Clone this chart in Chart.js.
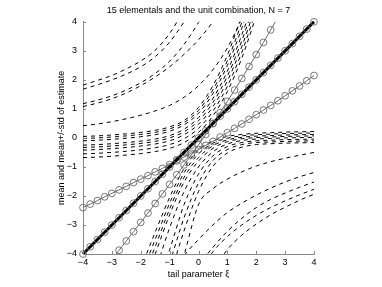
<!DOCTYPE html>
<html lang="en">
<head>
<meta charset="UTF-8">
<title>15 elementals and the unit combination, N = 7</title>
<script src="https://cdn.jsdelivr.net/npm/chart.js"></script>
<style>
  html, body { margin: 0; padding: 0; background: #fff; }
  canvas { display: block; }
</style>
</head>
<body>
<canvas id="myChart" width="382" height="287"></canvas>
<script>
// text
const titleText = '15 elementals and the unit combination, N = 7';
const xTitle = 'tail parameter \u03be';
const yTitle = 'mean and mean+/-std of estimate';
const xTickLabels = ['\u22124', '\u22123', '\u22122', '\u22121', '0', '1', '2', '3', '4'];
const yTickLabels = ['\u22124', '\u22123', '\u22122', '\u22121', '0', '1', '2', '3', '4'];

// grid for the elemental (dashed) curves
const xsD = [-4, -3.5, -3, -2.5, -2, -1.5, -1, -0.5, 0, 0.5, 1, 1.5, 2, 2.5, 3, 3.5, 4];

// upper curves, left edge to top edge
const u1 = [1.82, 1.98, 2.15, 2.38, 2.65, 3.02, 3.6, 4.4, null, null, null, null, null, null, null, null, null];
const u2 = [1.68, 1.83, 2.0, 2.2, 2.45, 2.8, 3.3, 4.0, 4.8, null, null, null, null, null, null, null, null];
const u3 = [1.18, 1.3, 1.45, 1.65, 1.9, 2.22, 2.64, 3.22, 3.98, 4.9, null, null, null, null, null, null, null];
const u4 = [1.08, 1.2, 1.35, 1.55, 1.8, 2.1, 2.45, 2.88, 3.38, 4.0, 4.7, null, null, null, null, null, null];
const u5 = [0.42, 0.48, 0.56, 0.66, 0.78, 0.93, 1.12, 1.4, 1.8, 2.35, 3.1, 4.1, null, null, null, null, null];

// dense bundle starting near zero at the left
const db1 = [0.05, 0.07, 0.10, 0.14, 0.19, 0.26, 0.38, 0.60, 1.05, 1.80, 2.85, 4.20, null, null, null, null, null];
const db2 = [-0.02, 0.0, 0.03, 0.07, 0.12, 0.19, 0.31, 0.53, 0.95, 1.66, 2.66, 3.98, 5.5, null, null, null, null];
const db3 = [-0.10, -0.08, -0.05, -0.01, 0.04, 0.11, 0.23, 0.45, 0.85, 1.53, 2.50, 3.78, 5.3, null, null, null, null];
const db4 = [-0.25, -0.23, -0.20, -0.16, -0.11, -0.04, 0.08, 0.30, 0.70, 1.36, 2.30, 3.55, 5.0, null, null, null, null];
const db5 = [-0.33, -0.31, -0.28, -0.24, -0.19, -0.12, 0.0, 0.21, 0.59, 1.22, 2.13, 3.35, 4.8, null, null, null, null];
const db6 = [-0.42, -0.40, -0.37, -0.33, -0.28, -0.21, -0.10, 0.11, 0.47, 1.08, 1.96, 3.15, 4.6, null, null, null, null];
const db7 = [-0.55, -0.53, -0.50, -0.46, -0.41, -0.34, -0.23, -0.03, 0.33, 0.92, 1.78, 2.95, 4.4, null, null, null, null];
const db8 = [-0.68, -0.66, -0.63, -0.59, -0.54, -0.47, -0.36, -0.16, 0.19, 0.76, 1.60, 2.75, 4.2, null, null, null, null];

// steep bundle from the bottom, flattening to the right edge
const s1 = [null, null, null, null, -4.5, -3.25, -2.05, -1.05, -0.42, -0.1, 0.05, 0.12, 0.16, 0.18, 0.2, 0.21, 0.22];
const s2 = [null, null, null, null, -4.75, -3.5, -2.25, -1.2, -0.55, -0.18, -0.01, 0.07, 0.11, 0.13, 0.15, 0.16, 0.17];
const s3 = [null, null, null, null, -5.0, -3.75, -2.45, -1.36, -0.68, -0.27, -0.07, 0.02, 0.06, 0.08, 0.1, 0.11, 0.12];
const s4 = [null, null, null, null, -5.3, -4.0, -2.65, -1.52, -0.8, -0.36, -0.13, -0.03, 0.01, 0.03, 0.05, 0.06, 0.07];
const s5 = [null, null, null, null, null, -4.6, -3.1, -1.85, -1.0, -0.48, -0.21, -0.09, -0.04, -0.02, 0.0, 0.01, 0.02];
const s6 = [null, null, null, null, null, -5.2, -3.85, -2.3, -1.25, -0.62, -0.3, -0.16, -0.1, -0.08, -0.06, -0.05, -0.04];
const s7 = [null, null, null, null, null, -5.6, -4.3, -2.75, -1.55, -0.78, -0.4, -0.23, -0.16, -0.14, -0.12, -0.11, -0.1];
const s8 = [null, null, null, null, null, null, -4.8, -3.2, -1.85, -0.98, -0.52, -0.32, -0.23, -0.2, -0.18, -0.17, -0.16];

// lower curves, bottom edge to right edge
const l0 = [null, null, null, null, null, null, -5.8, -4.05, -2.3, -1.75, -1.42, -1.17, -0.97, -0.82, -0.7, -0.6, -0.5];
const l1 = [null, null, null, null, null, null, -4.7, -4.05, -3.5, -3.0, -2.57, -2.25, -1.97, -1.73, -1.52, -1.34, -1.19];
const l2 = [null, null, null, null, null, null, null, -5.1, -4.4, -3.77, -3.22, -2.77, -2.4, -2.12, -1.9, -1.7, -1.52];
const l3 = [null, null, null, null, null, null, null, null, -4.7, -3.92, -3.4, -3.0, -2.67, -2.4, -2.17, -1.96, -1.77];
const l4 = [null, null, null, null, null, null, null, null, -5.4, -4.6, -3.85, -3.35, -2.97, -2.65, -2.39, -2.15, -1.94];

// unit combination
const xsC = [-4, -3.75, -3.5, -3.25, -3, -2.75, -2.5, -2.25, -2, -1.75, -1.5, -1.25, -1, -0.75, -0.5, -0.25, 0,
             0.25, 0.5, 0.75, 1, 1.25, 1.5, 1.75, 2, 2.25, 2.5, 2.75, 3, 3.25, 3.5, 3.75, 4];
const unitMean = [-4, -3.75, -3.5, -3.25, -3, -2.75, -2.5, -2.25, -2, -1.75, -1.5, -1.25, -1, -0.75, -0.5, -0.25, 0,
                  0.25, 0.5, 0.75, 1, 1.25, 1.5, 1.75, 2, 2.25, 2.5, 2.75, 3, 3.25, 3.5, 3.75, 4];
const unitUpper = [-2.40, -2.28, -2.16, -2.03, -1.91, -1.79, -1.67, -1.54, -1.42, -1.30, -1.17, -1.05, -0.92, -0.79, -0.66, -0.53, -0.40,
                   -0.26, -0.12, 0.03, 0.18, 0.33, 0.48, 0.64, 0.80, 0.96, 1.12, 1.28, 1.45, 1.62, 1.79, 1.97, 2.15];
const unitLower = [null, null, null, null, -4.19, -3.87, -3.55, -3.23, -2.91, -2.59, -2.26, -1.93, -1.60, -1.27, -0.93, -0.59, -0.24,
                   0.12, 0.49, 0.87, 1.26, 1.65, 2.05, 2.46, 2.87, 3.29, 3.72, 4.16, null, null, null, null, null];

const elementals = [u1, u2, u3, u4, u5, db1, db2, db3, db4, db5, db6, db7, db8,
                    s1, s2, s3, s4, s5, s6, s7, s8, l0, l1, l2, l3, l4];

const font = { family: '"Liberation Sans", Arial, Helvetica, sans-serif', size: 9 };
const axisColor = '#888';
const markerColor = '#6a6a6a';

function toPoints(xs, ys) {
    return xs.map((x, i) => ({ x: x, y: ys[i] }));
}

function markerRadius(c) {
    const v = c.raw ? c.raw.y : null;
    return (v === null || v < -4.05 || v > 4.05) ? 0 : 3.4;
}

const datasets = [];

datasets.push({
    data: toPoints(xsC, unitMean),
    borderColor: '#000',
    borderWidth: 3,
    pointRadius: markerRadius,
    pointBorderColor: markerColor,
    pointBackgroundColor: 'rgba(0,0,0,0)',
    pointBorderWidth: 0.9,
    clip: 5,
    order: 0
});

[unitUpper, unitLower].forEach(vals => {
    datasets.push({
        data: toPoints(xsC, vals),
        borderColor: markerColor,
        borderWidth: 1,
        pointRadius: markerRadius,
        pointBorderColor: markerColor,
        pointBackgroundColor: 'rgba(0,0,0,0)',
        pointBorderWidth: 0.9,
        clip: { left: 5, right: 5, top: 0, bottom: 0 },
        order: 1
    });
});

elementals.forEach(vals => {
    datasets.push({
        data: toPoints(xsD, vals),
        borderColor: '#000',
        borderWidth: 1,
        borderDash: [4, 4],
        cubicInterpolationMode: 'monotone',
        pointRadius: 0,
        order: 2
    });
});

// Matlab style ticks, pointing into the axes
const innerTicks = {
    id: 'innerTicks',
    afterDraw(chart) {
        const { ctx, chartArea, scales } = chart;
        ctx.save();
        ctx.strokeStyle = axisColor;
        ctx.lineWidth = 1;
        scales.x.ticks.forEach(t => {
            const px = Math.round(scales.x.getPixelForValue(t.value)) + 0.5;
            ctx.beginPath();
            ctx.moveTo(px, chartArea.bottom);
            ctx.lineTo(px, chartArea.bottom - 3);
            ctx.stroke();
        });
        scales.y.ticks.forEach(t => {
            const py = Math.round(scales.y.getPixelForValue(t.value)) + 0.5;
            ctx.beginPath();
            ctx.moveTo(chartArea.left, py);
            ctx.lineTo(chartArea.left + 3, py);
            ctx.stroke();
        });
        ctx.restore();
    }
};

const ctx = document.getElementById('myChart').getContext('2d');
new Chart(ctx, {
    type: 'line',
    data: { datasets: datasets },
    options: {
        responsive: false,
        animation: false,
        layout: { padding: { left: 0, right: 68, top: 0, bottom: 0 } },
        plugins: {
            legend: { display: false },
            tooltip: { enabled: false },
            title: {
                display: true,
                text: titleText,
                fullSize: false,
                color: '#000',
                font: { family: font.family, size: 9, weight: 'normal' },
                padding: { top: 5, bottom: 6 }
            }
        },
        scales: {
            x: {
                type: 'linear',
                min: -4,
                max: 4,
                afterFit: s => { s.height = 33; },
                grid: { display: false, drawTicks: false },
                border: { display: true, color: axisColor, width: 1 },
                ticks: {
                    stepSize: 1,
                    autoSkip: false,
                    maxRotation: 0,
                    padding: 3,
                    color: '#000',
                    font: font,
                    callback: (v, i) => xTickLabels[i]
                },
                title: { display: true, text: xTitle, color: '#000', font: font, padding: { top: 0, bottom: 7 } }
            },
            y: {
                type: 'linear',
                min: -4,
                max: 4,
                afterFit: s => { s.width = 83; },
                grid: { display: false, drawTicks: false },
                border: { display: true, color: axisColor, width: 1 },
                ticks: {
                    stepSize: 1,
                    autoSkip: false,
                    padding: 6,
                    color: '#000',
                    font: font,
                    callback: (v, i) => yTickLabels[i]
                },
                title: { display: true, text: yTitle, color: '#000', font: font, padding: { top: 56, bottom: 0 } }
            }
        }
    },
    plugins: [innerTicks]
});
</script>
</body>
</html>
